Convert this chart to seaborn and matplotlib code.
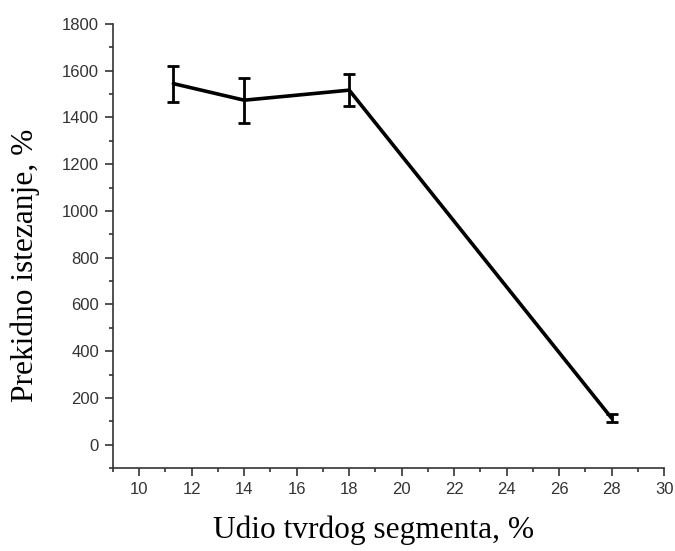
import matplotlib
matplotlib.use('Agg')
import matplotlib.pyplot as plt
import seaborn as sns
import pandas as pd
from matplotlib.ticker import MultipleLocator

# data
hard_segment = [11.3, 14, 18, 28]
elongation = [1545, 1474, 1517, 113]
elongation_err = [77, 97, 68, 18]

sns.set_theme(style="ticks")

df = pd.DataFrame({'x': hard_segment, 'y': elongation, 'err': elongation_err})

fig = plt.figure(figsize=(6.75, 5.51), dpi=100)
ax = fig.add_axes([0.1674, 0.1506, 0.8166, 0.8058])

sns.lineplot(data=df, x='x', y='y', color='black', linewidth=2.6, ax=ax, estimator=None)
ax.errorbar(df['x'], df['y'], yerr=df['err'], fmt='none', ecolor='black',
            elinewidth=2.0, capsize=4.5, capthick=2.0)

ax.set_xlim(9, 30)
ax.set_ylim(-100, 1800)
ax.xaxis.set_major_locator(MultipleLocator(2))
ax.xaxis.set_minor_locator(MultipleLocator(1))
ax.yaxis.set_major_locator(MultipleLocator(200))
ax.yaxis.set_minor_locator(MultipleLocator(100))
ax.set_xticks(range(10, 31, 2))

sns.despine(ax=ax)
for side in ['left', 'bottom']:
    ax.spines[side].set_color('#333333')
    ax.spines[side].set_linewidth(1.2)

ax.tick_params(which='major', length=6, width=1.2, color='#333333',
               labelsize=12, labelcolor='#333333', pad=4)
ax.tick_params(which='minor', length=3, width=1.2, color='#333333')
for lbl in ax.get_xticklabels() + ax.get_yticklabels():
    lbl.set_family('Liberation Sans')

ax.set_xlabel('Udio tvrdog segmenta, %', family='Liberation Serif', fontsize=22.6,
              color='black', va='center')
ax.set_ylabel('Prekidno istezanje, %', family='Liberation Serif', fontsize=22.6,
              color='black', va='center')
ax.xaxis.set_label_coords(0.472, -0.14)
ax.yaxis.set_label_coords(-0.16, 0.457)

fig.savefig('out.png', dpi=100)
